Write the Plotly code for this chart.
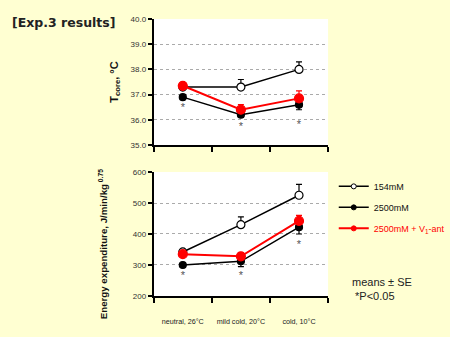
import plotly.graph_objects as go

categories = ["neutral, 26°C", "mild cold, 20°C", "cold, 10°C"]
series_names = ["154mM", "2500mM", "2500mM + V<sub>1</sub>-ant"]

# Core temperature (°C)
tcore_154 = [37.3, 37.3, 38.0]
tcore_154_err = [0.0, 0.3, 0.3]
tcore_2500 = [36.9, 36.2, 36.6]
tcore_2500_err = [0.05, 0.1, 0.2]
tcore_v1 = [37.35, 36.4, 36.85]
tcore_v1_err = [0.05, 0.2, 0.3]
tcore_star = [36.45, 35.7, 35.8]

# Energy expenditure (J/min/kg^0.75)
ee_154 = [342, 430, 525]
ee_154_err = [5, 25, 35]
ee_2500 = [300, 312, 422]
ee_2500_err = [5, 17, 22]
ee_v1 = [335, 328, 442]
ee_v1_err = [5, 12, 18]
ee_star = [263, 263, 365]

tcore_ticks = [35.0, 36.0, 37.0, 38.0, 39.0, 40.0]
ee_ticks = [200, 300, 400, 500, 600]

BG = "#FFFFD2"
fig = go.Figure()

def add_series(y, err, up, xa, ya, color, fill, msize, lw):
    fig.add_trace(go.Scatter(
        x=categories, y=y, xaxis=xa, yaxis=ya, mode="lines+markers",
        showlegend=False,
        line=dict(color=color, width=lw),
        marker=dict(size=msize, color=fill, line=dict(color=color, width=1.2)),
        error_y=dict(type="data", symmetric=False,
                     array=err if up else [0]*len(err),
                     arrayminus=[0]*len(err) if up else err,
                     color=color, thickness=1.2, width=3),
    ))

for xa, ya, d154, e154, d25, e25, dv, ev in [
    ("x", "y", tcore_154, tcore_154_err, tcore_2500, tcore_2500_err, tcore_v1, tcore_v1_err),
    ("x2", "y2", ee_154, ee_154_err, ee_2500, ee_2500_err, ee_v1, ee_v1_err),
]:
    add_series(d154, e154, True, xa, ya, "black", "white", 8, 1.5)
    add_series(d25, e25, False, xa, ya, "black", "black", 7, 1.5)
    add_series(dv, ev, True, xa, ya, "#FF0000", "#FF0000", 9, 2)

# legend-only entries with small markers
for name, color, fill, lw in [(series_names[0], "black", "white", 1.5),
                              (series_names[1], "black", "black", 1.5),
                              ("<span style='color:#FF0000'>" + series_names[2] + "</span>", "#FF0000", "#FF0000", 2)]:
    fig.add_trace(go.Scatter(x=[None], y=[None], xaxis="x2", yaxis="y2", mode="lines+markers",
                             name=name, legendgroup=name, line=dict(color=color, width=lw),
                             marker=dict(size=5, color=fill, line=dict(color=color, width=1))))

for xa, ya, s in [("x", "y", tcore_star), ("x2", "y2", ee_star)]:
    fig.add_trace(go.Scatter(x=categories, y=s, xaxis=xa, yaxis=ya, mode="text",
                             text=["*"] * 3, showlegend=False,
                             textfont=dict(size=11, color="#555555", family="Liberation Sans")))

xcommon = dict(type="category", range=[-0.5, 2.5], domain=[0.351, 0.749],
               showline=True, linecolor="black", linewidth=2, ticks="outside",
               ticklen=5, tickcolor="black", tickwidth=1.5, tickson="boundaries",
               showgrid=False, zeroline=False, automargin=False, tickangle=0)
ycommon = dict(showline=True, linecolor="black", linewidth=2, ticks="outside",
               ticklen=4, tickcolor="black", tickwidth=1.5, showgrid=True,
               gridcolor="#AAAAAA", griddash="dot", gridwidth=1, zeroline=False,
               automargin=False,
               tickfont=dict(size=8, family="Liberation Sans", color="#333333"))

fig.update_layout(
    width=450, height=337, margin=dict(l=0, r=0, t=0, b=0),
    paper_bgcolor=BG, plot_bgcolor="white",
    xaxis=dict(**xcommon, anchor="y", showticklabels=False),
    xaxis2=dict(**xcommon, anchor="y2", showticklabels=True, ticklabelstandoff=17,
                tickfont=dict(size=7.2, family="Liberation Sans", color="#222222")),
    yaxis=dict(**ycommon, domain=[0.5697, 0.9436], range=[35, 40], tickvals=tcore_ticks,
               tickformat=".1f", anchor="x",
               title=dict(text="<b>T<sub>core</sub>, °C</b>", standoff=10,
                          font=dict(size=11, family="Liberation Sans", color="#111111"))),
    yaxis2=dict(**ycommon, domain=[0.1217, 0.4896], range=[200, 600], tickvals=ee_ticks,
                anchor="x2"),
    legend=dict(x=0.762, y=0.49, xanchor="left", yanchor="top", bgcolor="rgba(0,0,0,0)",
                font=dict(size=9, family="Liberation Sans", color="#111111"),
                itemwidth=30, tracegroupgap=2),
    showlegend=True,
)

fig.add_annotation(text="<b>Energy expenditure, J/min/kg<sup> 0.75</sup></b>", textangle=-90,
                   xref="paper", yref="paper", x=106 / 450, y=1 - 244 / 337,
                   xanchor="center", yanchor="middle", showarrow=False,
                   font=dict(size=9.7, family="Liberation Sans", color="#111111"))
fig.add_annotation(text="<b>[Exp.3 results]</b>", xref="paper", yref="paper",
                   x=10 / 450, y=1 - 22 / 337, xanchor="left", yanchor="middle",
                   showarrow=False, font=dict(size=12.5, family="DejaVu Sans", color="#222222"))
fig.add_annotation(text="means ± SE<br> *P<0.05", xref="paper", yref="paper",
                   x=392 / 450, y=1 - 289 / 337, xanchor="center", yanchor="middle",
                   align="left", showarrow=False,
                   font=dict(size=11, family="Liberation Sans", color="#222222"))

fig.write_html("out.html")
